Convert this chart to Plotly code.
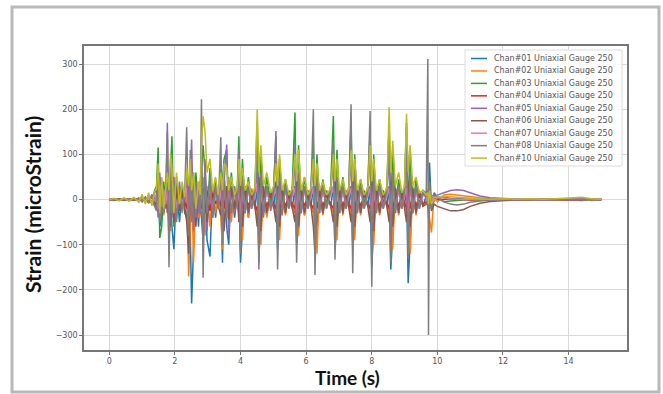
import plotly.graph_objects as go

# ---------------- data ----------------
TIME = [
    0.0, 0.15, 0.3, 0.45, 0.6, 0.75, 0.9, 1.0, 1.1, 1.2, 1.3, 1.38,
    1.44, 1.49, 1.54, 1.60, 1.66, 1.72,
    1.77, 1.82, 1.87, 1.91, 1.97, 2.05, 2.14, 2.22, 2.30,
    2.36, 2.42, 2.47, 2.51, 2.57, 2.64, 2.72, 2.77,
    2.81, 2.86, 2.92, 2.98, 3.07, 3.15, 3.24, 3.32,
    3.40, 3.45, 3.50, 3.58, 3.64, 3.72, 3.82, 3.90,
    3.95, 4.00, 4.06, 4.14, 4.24, 4.34, 4.44,
    4.51, 4.56, 4.62, 4.70, 4.80, 4.92, 5.01,
    5.08, 5.13, 5.19, 5.27, 5.37, 5.48, 5.58,
    5.66, 5.71, 5.77, 5.85, 5.95, 6.06, 6.15,
    6.22, 6.27, 6.33, 6.41, 6.51, 6.62, 6.75,
    6.83, 6.88, 6.94, 7.02, 7.12, 7.22, 7.30,
    7.37, 7.42, 7.48, 7.56, 7.66, 7.77, 7.88,
    7.95, 8.00, 8.06, 8.14, 8.24, 8.35, 8.46,
    8.53, 8.58, 8.64, 8.72, 8.82, 8.92, 9.00,
    9.06, 9.11, 9.17, 9.25, 9.35, 9.45, 9.56,
    9.66, 9.71, 9.73, 9.76, 9.82, 9.90, 10.0,
    10.2, 10.4, 10.6, 10.8, 11.0, 11.3, 11.6, 12.0, 12.4, 12.8, 13.2, 13.6, 14.0, 14.4, 14.7, 15.0,
]

CH01 = [
    0, 1, -1, 2, -2, 1, -3, 2, -5, 4, -8, 10,
    -20, 40, -60, -40, 30, -20,
    30, -90, 40, -60, -110, 30, -50, 20, -30,
    -40, 30, -80, -230, -120, 40, -60, 20,
    40, -60, 30, -90, -126, 30, -40, 15,
    30, -140, 40, -60, -100, 30, -40, 15,
    40, -140, -70, 30, -40, 20, -20,
    30, -120, -60, 20, -35, 20, -20,
    40, -110, -50, 25, -30, 15, -20,
    30, -100, -60, 25, -35, 15, -15,
    30, -90, -60, 20, -30, 15, -15,
    30, -110, -50, 25, -30, 15, -15,
    30, -100, -60, 25, -30, 15, -15,
    30, -150, -60, 25, -30, 15, -15,
    30, -155, -70, 25, -30, 15, -15,
    30, -185, -80, 25, -30, 15, -15,
    10, 20, -30, 82, -20, 15, 5,
    5, 3, 2, 1, 0, 1, -1, 0, 1, 0, -1, 0, 1, 0, -1, 0,
]

CH02 = [
    0, -1, 2, -1, 1, -2, 3, -4, 6, -6, 9, -12,
    15, -30, 50, 20, -35, 10,
    -20, 60, -70, 30, 50, -40, 25, -30, 15,
    30, -170, -60, 40, -140, 30, -40, 15,
    -30, 50, -80, 30, -60, 25, -30, 20,
    -40, -110, 50, -30, 40, -50, 25, -15,
    -30, 50, -90, 30, -40, 25, -15,
    -40, 40, -100, 30, -40, 20, -15,
    -30, 50, -90, 30, -35, 20, -15,
    -30, 40, -80, 30, -35, 20, -15,
    -30, 50, -120, 30, -35, 20, -15,
    -30, 40, -90, 30, -35, 20, -15,
    -30, 40, -90, 30, -35, 20, -15,
    -30, 40, -100, 30, -35, 20, -15,
    -30, 40, -110, 30, -35, 20, -15,
    -30, 40, -120, 30, -35, 20, -15,
    -10, 15, -20, -40, -73, 10, -5,
    10, 12, 10, 8, 6, 4, 2, 1, 0, 1, 0, -1, 0, 1, 0, 0,
]

CH03 = [
    0, 2, -1, 1, -2, 3, -2, 5, -4, 8, -10, 20,
    30, 115, -85, -60, 40, -10,
    40, -30, 70, 140, -60, 50, -20, 30, -10,
    60, -30, 90, 50, -50, 60, -20, 30,
    80, 120, 60, -40, 70, -30, 40, -10,
    70, 40, 90, 110, -40, 60, -20, 25,
    140, -40, 90, -20, 50, -10, 30,
    170, -40, 100, -20, 50, -10, 25,
    120, -30, 90, -20, 45, -10, 30,
    193, -40, 120, -20, 50, -10, 30,
    130, -30, 100, -20, 45, -10, 30,
    185, -30, 110, -20, 50, -10, 30,
    170, -30, 100, -20, 45, -10, 30,
    150, -30, 100, -20, 45, -10, 30,
    160, -30, 110, -20, 45, -10, 30,
    170, -30, 110, -20, 45, -10, 20,
    15, -10, 20, 40, -15, 10, 5,
    -5, -3, -2, -1, 0, -1, 0, 1, 0, -1, 0, 1, 0, 3, -2, 0,
]

CH04 = [
    0, -1, 1, -2, 2, -1, 2, -3, 4, -5, 6, -8,
    -10, 20, -25, 10, -15, 5,
    -15, 25, -20, 15, -30, 20, -10, 15, -5,
    -20, 30, -25, 20, -30, 15, -15, 10,
    -20, 25, -30, 20, -25, 15, -10, 10,
    -15, 25, -20, 15, -25, 20, -10, 10,
    -20, 25, -20, 15, -15, 10, -10,
    -25, 30, -25, 15, -15, 10, -10,
    -20, 25, -20, 15, -15, 10, -10,
    -20, 30, -20, 15, -15, 10, -10,
    -20, 25, -20, 15, -15, 10, -10,
    -20, 25, -20, 15, -15, 10, -10,
    -20, 25, -20, 15, -15, 10, -10,
    -20, 25, -20, 15, -15, 10, -10,
    -20, 25, -20, 15, -15, 10, -10,
    -20, 25, -20, 15, -15, 10, -10,
    -5, 10, -10, 15, -10, 5, 0,
    0, 2, 1, 0, -1, 0, 1, 0, -1, 0, 1, 0, -1, 0, 1, 0,
]

CH05 = [
    0, 1, -2, 1, -1, 2, -2, 4, -6, 7, -9, 15,
    20, -40, 60, -30, 25, -15,
    170, -70, 90, -40, 50, -30, 40, -20, 10,
    40, -60, 50, 133, -70, 40, -30, 20,
    60, -50, 90, -70, 40, -30, 30, -20,
    50, -60, 40, 122, -80, 30, -30, 15,
    80, -110, 50, -30, 30, -20, 15,
    70, -155, 60, -40, 30, -25, 15,
    152, -90, 50, -35, 30, -20, 15,
    90, -80, 60, -30, 30, -20, 15,
    80, -90, 50, -30, 30, -20, 15,
    90, -100, 50, -30, 30, -20, 15,
    100, -110, 60, -30, 30, -20, 15,
    110, -100, 60, -30, 30, -20, 15,
    100, -120, 60, -30, 30, -20, 15,
    110, -110, 60, -30, 30, -20, 15,
    10, -20, 25, -15, 10, 5, 10,
    15, 20, 22, 20, 15, 8, 4, 2, 1, 0, 1, 0, 1, 2, 0, 1,
]

CH06 = [
    0, -2, 1, -1, 2, -2, 3, -5, 5, -8, 10, -14,
    -15, 35, -40, 30, -20, 15,
    -30, 50, -60, 40, -50, 30, -25, 20, -15,
    -50, -120, 40, -40, 50, -60, 30, -20,
    -40, -90, 40, -50, 30, -40, 20, -15,
    -35, 40, -70, 30, -45, 25, -20, 15,
    -50, 40, -60, 30, -30, 20, -15,
    -60, 50, -70, 30, -30, 20, -15,
    -50, 40, -60, 25, -30, 20, -15,
    -50, 40, -60, 25, -30, 20, -15,
    -60, -120, 50, 25, -30, 20, -15,
    -50, 40, -60, 25, -30, 20, -15,
    -50, 40, -60, 25, -30, 20, -15,
    -50, 40, -70, 25, -30, 20, -15,
    -50, 40, -60, 25, -30, 20, -15,
    -50, 40, -60, 25, -30, 20, -15,
    -10, 20, -40, 30, -25, -10, -15,
    -20, -25, -25, -22, -15, -8, -4, -2, -1, 0, -1, 0, -1, -2, 0, -1,
]

CH07 = [
    0, 1, -1, 1, -1, 2, -2, 3, -3, 5, -6, 9,
    10, -20, 30, -15, 20, -10,
    20, -30, 40, -25, 30, -20, 15, -10, 10,
    25, -35, 40, -30, 35, -20, 20, -10,
    30, -30, 40, -20, 30, -25, 15, -10,
    20, -30, 35, -25, 30, -20, 15, -10,
    25, -35, 30, -20, 20, -15, 10,
    30, -40, 35, -20, 20, -15, 10,
    25, -35, 30, -20, 20, -15, 10,
    25, -30, 30, -20, 20, -15, 10,
    25, -35, 30, -20, 20, -15, 10,
    25, -35, 30, -20, 20, -15, 10,
    25, -35, 30, -20, 20, -15, 10,
    25, -35, 30, -20, 20, -15, 10,
    25, -35, 30, -20, 20, -15, 10,
    25, -35, 30, -20, 20, -15, 10,
    5, -10, 15, -10, 10, -5, 5,
    3, 2, 1, 0, 1, 0, -1, 0, 1, 0, -1, 0, 1, 0, -1, 0,
]

CH08 = [
    0, -1, 1, -1, 2, -1, 2, -4, 5, -7, 12, -15,
    -25, 60, -50, 45, -30, 20,
    150, -150, 60, -30, 40, -50, 30, -25, 15,
    160, -80, 110, -50, 60, -40, 40, -30,
    222, -173, 70, -30, 50, -40, 30, -20,
    138, -100, 60, -40, 50, -30, 30, -20,
    110, -120, 50, -30, 30, -20, 20,
    130, -140, 50, -30, 30, -20, 20,
    140, -155, 50, -30, 30, -20, 20,
    120, -140, 50, -30, 30, -20, 20,
    200, -167, 60, -30, 30, -20, 20,
    130, -133, 50, -30, 30, -20, 20,
    211, -163, 60, -30, 30, -20, 20,
    196, -193, 60, -30, 30, -20, 20,
    150, -140, 60, -30, 30, -20, 20,
    160, -130, 60, -30, 30, -20, 15,
    5, 311, -300, 40, -20, 10, 5,
    -5, -10, -12, -10, -6, -3, -1, 0, 1, 0, -1, 0, 1, 0, -1, 0,
]

CH10 = [
    0, 3, -3, 4, -4, 5, -6, 12, -10, 15, -14, 18,
    25, 80, -30, 50, -20, 30,
    60, 20, 100, 70, -30, 60, -10, 40, 5,
    70, 30, 90, 20, 60, -20, 40, 10,
    120, 185, 150, 60, 90, 20, 50, 10,
    60, 20, 80, 70, 20, 50, 10, 25,
    90, 30, 70, 20, 40, 10, 25,
    200, 60, 120, 30, 60, 15, 30,
    80, 30, 100, 20, 45, 10, 25,
    100, 40, 110, 20, 50, 10, 25,
    90, 30, 80, 20, 40, 10, 25,
    100, 40, 90, 20, 45, 10, 25,
    110, 40, 90, 20, 45, 10, 25,
    120, 40, 90, 20, 45, 10, 25,
    205, 60, 130, 30, 60, 15, 30,
    190, 60, 120, 30, 50, 15, 20,
    10, 15, -10, 20, -10, 5, 5,
    8, 6, 5, 4, 3, 2, 1, 2, 1, 2, 1, 2, 3, 5, 2, 1,
]

NAMES = [
    "Chan#01 Uniaxial Gauge 250", "Chan#02 Uniaxial Gauge 250",
    "Chan#03 Uniaxial Gauge 250", "Chan#04 Uniaxial Gauge 250",
    "Chan#05 Uniaxial Gauge 250", "Chan#06 Uniaxial Gauge 250",
    "Chan#07 Uniaxial Gauge 250", "Chan#08 Uniaxial Gauge 250",
    "Chan#10 Uniaxial Gauge 250",
]
SERIES = [CH01, CH02, CH03, CH04, CH05, CH06, CH07, CH08, CH10]
COLORS = ["#1f77b4", "#ff7f0e", "#2ca02c", "#d62728", "#9467bd",
          "#8c564b", "#e377c2", "#7f7f7f", "#bcbd22"]

X_TICKS = [0, 2, 4, 6, 8, 10, 12, 14]
Y_TICKS = [-300, -200, -100, 0, 100, 200, 300]

for s in SERIES:
    assert len(s) == len(TIME), (len(s), len(TIME))

# ---------------- figure ----------------
W, H = 663, 394
L, R, T, B = 84, 627, 46, 350  # plot area in pixels

fig = go.Figure()
for name, vals, col in zip(NAMES, SERIES, COLORS):
    fig.add_trace(go.Scatter(x=TIME, y=vals, mode="lines", name=name,
                             line=dict(color=col, width=1.5),
                             showlegend=False))

def px(xp):
    return (xp - L) / (R - L)

def py(yp):
    return (B - yp) / (B - T)

shapes = []
annotations = []

# outer frame
shapes.append(dict(type="rect", xref="paper", yref="paper",
                   x0=px(12), x1=px(659), y0=py(392), y1=py(7),
                   line=dict(color="#b9b9b9", width=3), fillcolor="rgba(0,0,0,0)",
                   layer="above"))

# legend box
shapes.append(dict(type="rect", xref="paper", yref="paper",
                   x0=px(465), x1=px(622), y0=py(166), y1=py(50),
                   line=dict(color="#dcdcdc", width=1),
                   fillcolor="rgba(255,255,255,0.85)", layer="above"))
for i, (name, col) in enumerate(zip(NAMES, COLORS)):
    yy = 58.5 + 12.45 * i
    shapes.append(dict(type="line", xref="paper", yref="paper",
                       x0=px(471), x1=px(487), y0=py(yy), y1=py(yy),
                       line=dict(color=col, width=1.5), layer="above"))
    annotations.append(dict(xref="paper", yref="paper", x=px(492), y=py(yy),
                            text=name, showarrow=False, xanchor="left",
                            yanchor="middle",
                            font=dict(family="DejaVu Sans", size=8, color="#555")))

# axis titles
annotations.append(dict(xref="paper", yref="paper", x=px(347), y=py(377),
                        text="<b>Time (s)</b>", showarrow=False,
                        xanchor="center", yanchor="middle",
                        font=dict(family="Lato", size=19, color="#111")))
annotations.append(dict(xref="paper", yref="paper", x=px(32), y=py(205),
                        text="<b>Strain (microStrain)</b>", showarrow=False,
                        textangle=-90, xanchor="center", yanchor="middle",
                        font=dict(family="Lato", size=21, color="#111")))

axis_common = dict(showgrid=True, gridcolor="#d9d9d9", gridwidth=1,
                   zeroline=False, showline=True, linecolor="#777",
                   linewidth=1.5, mirror=True, ticks="outside", ticklen=3,
                   tickcolor="#777", tickfont=dict(family="DejaVu Sans", size=8,
                                                   color="#555"))

fig.update_layout(
    width=W, height=H,
    margin=dict(l=L, r=W - R, t=T, b=H - B, pad=0),
    paper_bgcolor="white", plot_bgcolor="white",
    xaxis=dict(range=[-0.77, 15.78], tickvals=X_TICKS, **axis_common),
    yaxis=dict(range=[-333, 340], tickvals=Y_TICKS, **axis_common),
    shapes=shapes, annotations=annotations,
    showlegend=False,
)

fig.write_html("out.html",
               config={"displayModeBar": False},
               post_script="document.body.style.margin='0';document.body.style.padding='0';")
